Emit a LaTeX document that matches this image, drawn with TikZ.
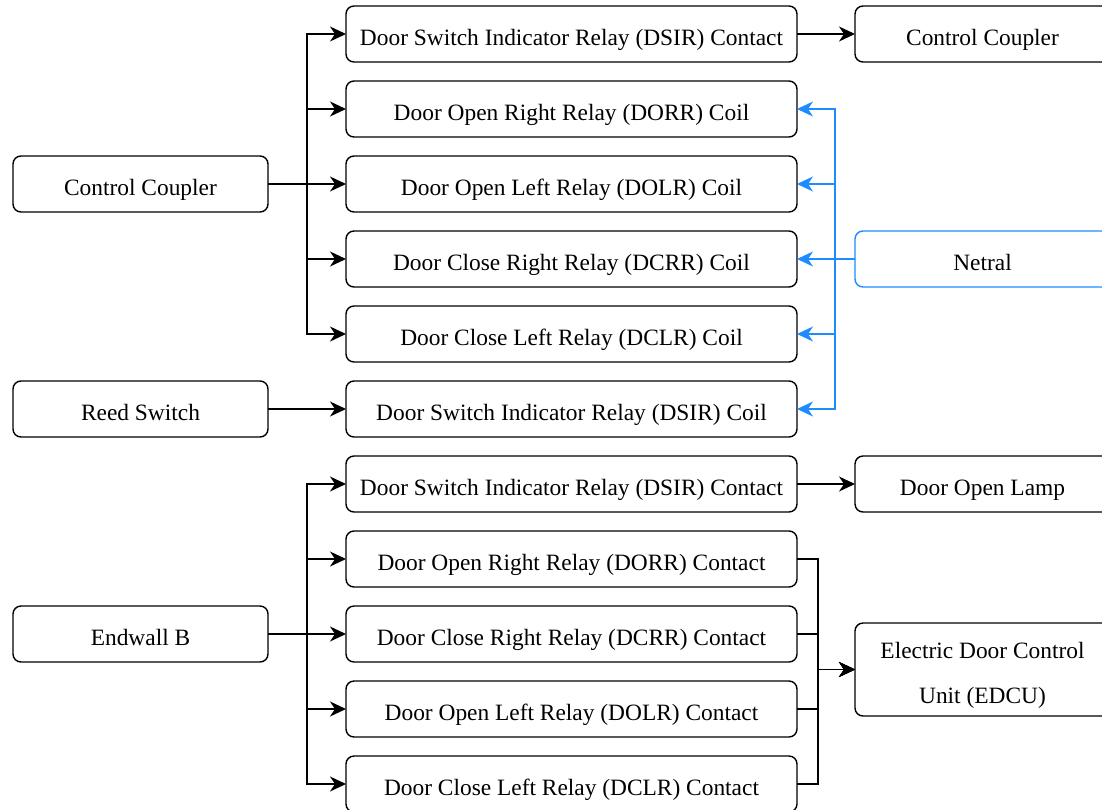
\documentclass[tikz,border=0pt]{standalone}
\usepackage{fontspec}
\setmainfont{Liberation Serif}
\usetikzlibrary{arrows.meta, positioning, calc}

\definecolor{netblue}{RGB}{30,140,255}

\begin{document}
\begin{tikzpicture}[
  x=1pt, y=-1pt,
  node distance=19pt,
  box/.style={rectangle, draw, rounded corners=8pt, text centered,
              line width=1.4pt, minimum height=56pt, inner sep=0pt, outer sep=0pt,
              text height=23pt, text depth=0pt,
              font=\fontsize{23.4}{28}\selectfont, fill=white},
  side/.style={box, minimum width=255pt},
  mid/.style={box, minimum width=451pt},
  arr/.style={-{Stealth[length=16pt, width=15pt, inset=5pt]}, line width=1.5pt},
  barr/.style={arr, draw=netblue}
]
\useasboundingbox (0,0) rectangle (1102,809);
\clip (0,0) rectangle (1102,809);

% middle column
\node[mid] (dsirc1) at (571.5,34) {Door Switch Indicator Relay (DSIR) Contact};
\node[mid, below=of dsirc1] (dorr)   {Door Open Right Relay (DORR) Coil};
\node[mid, below=of dorr]   (dolr)   {Door Open Left Relay (DOLR) Coil};
\node[mid, below=of dolr]   (dcrr)   {Door Close Right Relay (DCRR) Coil};
\node[mid, below=of dcrr]   (dclr)   {Door Close Left Relay (DCLR) Coil};
\node[mid, below=of dclr]   (dsir)   {Door Switch Indicator Relay (DSIR) Coil};
\node[mid, below=of dsir]   (dsirc2) {Door Switch Indicator Relay (DSIR) Contact};
\node[mid, below=of dsirc2] (dorrc)  {Door Open Right Relay (DORR) Contact};
\node[mid, below=of dorrc]  (dcrrc)  {Door Close Right Relay (DCRR) Contact};
\node[mid, below=of dcrrc]  (dolrc)  {Door Open Left Relay (DOLR) Contact};
\node[mid, below=of dolrc]  (dclrc)  {Door Close Left Relay (DCLR) Contact};

% left column
\node[side, left=78pt of dolr]  (cc)   {Control Coupler};
\node[side, left=78pt of dsir]  (reed) {Reed Switch};
\node[side, left=78pt of dcrrc] (endb) {Endwall B};

% right column
\node[side, right=58pt of dsirc1] (cc2)  {Control Coupler};
\node[side, draw=netblue, right=58pt of dcrr] (net) {Netral};
\node[side, right=58pt of dsirc2] (lamp) {Door Open Lamp};
\coordinate (mrg) at ($(dcrrc.east)!0.5!(dolrc.east)+(0,-2)$);
\node[side, minimum height=93pt, align=center, text height=68pt, text depth=0pt,
      font=\fontsize{23.4}{45}\selectfont,
      right=58pt of mrg] (edcu) {Electric Door Control\\Unit (EDCU)};

% feeds into the relays
\foreach \n in {dsirc1,dorr,dolr,dcrr,dclr}
  \draw[arr] (cc.east) -- ++(39,0) |- (\n.west);
\draw[arr] (reed) -- (dsir);
\foreach \n in {dsirc2,dorrc,dcrrc,dolrc,dclrc}
  \draw[arr] (endb.east) -- ++(39,0) |- (\n.west);

% neutral return
\draw[barr] (net) -- (dcrr);
\foreach \n in {dorr,dolr,dclr,dsir}
  \draw[barr] (net.west) -- ++(-20,0) |- (\n.east);

% outputs
\draw[arr] (dsirc1) -- (cc2);
\draw[arr] (dsirc2) -- (lamp);
\foreach \n in {dorrc,dcrrc,dolrc,dclrc}
  \draw[arr] (\n.east) -- ++(21,0) |- (edcu.west);
\end{tikzpicture}
\end{document}
